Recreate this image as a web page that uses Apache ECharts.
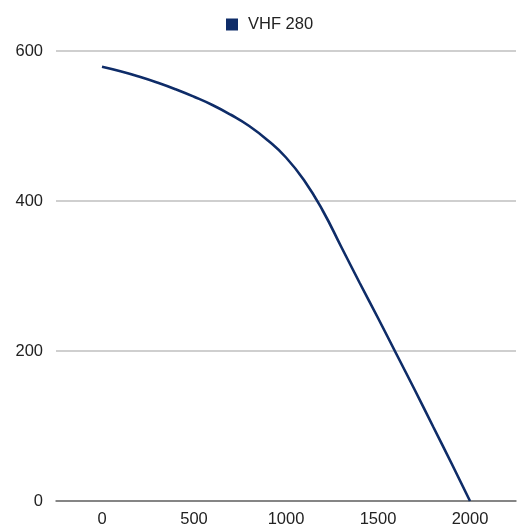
<!DOCTYPE html>
<html><head><meta charset="utf-8">
<script src="https://cdn.jsdelivr.net/npm/echarts@6/dist/echarts.min.js"></script>
<style>html,body{margin:0;padding:0;background:#fff}#c{width:523px;height:531px}</style>
</head><body><div id="c"></div>
<script>
const seriesName = 'VHF 280';
const xValues = [0, 100, 200, 300, 400, 500, 600, 700, 800, 900, 1000, 1100, 1200, 1300, 1400, 1500, 1600, 1700, 1800, 1900, 2000];
const yValues = [579, 573, 566, 558, 549, 539, 528, 515, 500, 481, 458, 427, 387, 339, 291, 244, 196, 148, 99, 50, 0];
const xTicks = [0, 500, 1000, 1500, 2000];
const yTicks = [0, 200, 400, 600];

const chart = echarts.init(document.getElementById('c'));
chart.setOption({
  animation: false,
  textStyle: { fontFamily: 'Liberation Sans, Arial, sans-serif' },
  legend: {
    left: 221, top: 11, itemWidth: 12, itemHeight: 12, icon: 'rect',
    textStyle: { fontSize: 16.5, color: '#222', padding: [0, 0, 0, 5] },
    data: [seriesName]
  },
  grid: { left: 56, right: 7, top: 51, bottom: 30, containLabel: false },
  xAxis: {
    type: 'value', min: -250, max: 2250, interval: 250,
    axisLine: { show: true, lineStyle: { color: '#6e6e6e', width: 1.5 } },
    axisTick: { show: false },
    splitLine: { show: false },
    axisLabel: {
      fontSize: 16.5, color: '#222', margin: 10,
      formatter: v => xTicks.includes(v) ? String(v) : ''
    }
  },
  yAxis: {
    type: 'value', min: yTicks[0], max: yTicks[yTicks.length - 1], interval: 200,
    axisLine: { show: false }, axisTick: { show: false },
    splitLine: { lineStyle: { color: '#bfbfbf', width: 1.5 } },
    axisLabel: { fontSize: 16.5, color: '#222', margin: 13 }
  },
  series: [{
    name: seriesName, type: 'line', smooth: 0.5, showSymbol: false,
    data: xValues.map((x, i) => [x, yValues[i]]),
    lineStyle: { color: '#0e2c68', width: 2.6 },
    itemStyle: { color: '#0e2c68' }
  }]
});
</script></body></html>
